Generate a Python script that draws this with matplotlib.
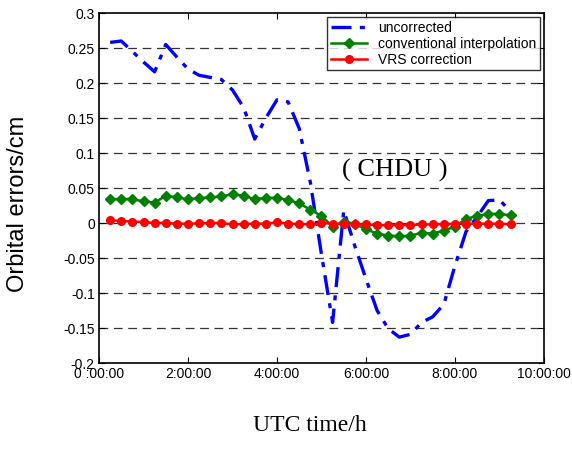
import matplotlib
matplotlib.use("Agg")
import matplotlib.pyplot as plt
import numpy as np

# time in hours
times = [0.25, 0.5, 0.75, 1.0, 1.25, 1.5, 1.75, 2.0, 2.25, 2.5, 2.75, 3.0, 3.25,
         3.5, 3.75, 4.0, 4.25, 4.5, 4.75, 5.0, 5.25, 5.5, 5.75, 6.0, 6.25, 6.5,
         6.75, 7.0, 7.25, 7.5, 7.75, 8.0, 8.25, 8.5, 8.75, 9.0, 9.25]

uncorrected = [0.258, 0.260, 0.245, 0.230, 0.216, 0.255, 0.237, 0.220, 0.211,
               0.208, 0.205, 0.190, 0.165, 0.120, 0.150, 0.176, 0.173, 0.135,
               0.058, -0.045, -0.142, 0.018, -0.033, -0.080, -0.125, -0.151,
               -0.163, -0.159, -0.142, -0.134, -0.116, -0.061, -0.012, 0.009,
               0.032, 0.033, 0.0165]

conventional = [0.0337, 0.0346, 0.034, 0.031, 0.029, 0.039, 0.0365, 0.034,
                0.0356, 0.0365, 0.038, 0.041, 0.039, 0.034, 0.036, 0.036,
                0.033, 0.028, 0.019, 0.010, -0.005, 0.002, -0.001, -0.009,
                -0.015, -0.018, -0.019, -0.018, -0.014, -0.015, -0.011,
                -0.005, 0.006, 0.010, 0.013, 0.013, 0.011]

vrs = [0.004, 0.003, 0.002, 0.0015, 0.0, 0.0, -0.001, -0.001, -0.0005, 0.0,
       0.0, -0.002, -0.0015, -0.001, -0.001, 0.001, -0.001, -0.0015, -0.002,
       0.0, -0.001, -0.0015, -0.002, -0.002, -0.003, -0.003, -0.003, -0.003,
       -0.002, -0.002, -0.0015, -0.0015, -0.001, -0.001, -0.001, -0.001,
       -0.002]

xticks = [0, 2, 4, 6, 8, 10]
xticklabels = ["0 :00:00", "2:00:00", "4:00:00", "6:00:00", "8:00:00", "10:00:00"]
yticks = [-0.2, -0.15, -0.1, -0.05, 0, 0.05, 0.1, 0.15, 0.2, 0.25, 0.3]
yticklabels = ["-0.2", "-0.15", "-0.1", "-0.05", "0", "0.05", "0.1", "0.15", "0.2", "0.25", "0.3"]

plt.rcParams['font.family'] = ['Liberation Sans', 'DejaVu Sans']

fig = plt.figure(figsize=(5.72, 4.5), dpi=100)
ax = fig.add_axes([0.1731, 0.1933, 0.951 - 0.1731, 0.9711 - 0.1933])

ax.plot(times, uncorrected, color='blue', linestyle='-.', linewidth=2.4,
        dashes=(6, 2.5, 1.5, 2.5), label='uncorrected', zorder=3)
ax.plot(times, conventional, color='green', linestyle='-', linewidth=1.8,
        marker='D', markersize=5.5, label='conventional interpolation', zorder=4)
ax.plot(times, vrs, color='red', linestyle='-', linewidth=1.8,
        marker='o', markersize=5.5, label='VRS correction', zorder=5)

ax.set_xlim(0, 10)
ax.set_ylim(-0.2, 0.3)
ax.set_xticks(xticks)
ax.set_xticklabels(xticklabels, fontsize=10)
ax.set_yticks(yticks)
ax.set_yticklabels(yticklabels, fontsize=10)
ax.tick_params(direction='in', top=True, right=True, length=4, width=0.8)
ax.tick_params(axis='x', pad=3)
ax.tick_params(axis='y', pad=3)
for s in ax.spines.values():
    s.set_linewidth(1.2)

for yv in yticks[1:-1]:
    ax.axhline(yv, color='#333333', linestyle=(0, (7, 4.5)), linewidth=0.9, zorder=1)

ax.set_ylabel('Orbital errors/cm', fontsize=17)
ax.yaxis.set_label_coords(-0.158, 0.455)
fig.text(0.542, 0.055, 'UTC time/h', family=['Liberation Serif', 'DejaVu Serif'],
         fontsize=17, ha='center', va='center')
ax.text(6.65, 0.075, '( CHDU )', family=['Liberation Serif', 'DejaVu Serif'],
        fontsize=19, ha='center', va='center')

leg = ax.legend(loc='upper right', fontsize=10, frameon=True, fancybox=False,
                edgecolor='black', borderpad=0.25, labelspacing=0.15,
                handlelength=2.6, handletextpad=0.8, borderaxespad=0.3)
leg.get_frame().set_linewidth(1.0)
leg.set_zorder(10)

fig.savefig('out.png', dpi=100)
